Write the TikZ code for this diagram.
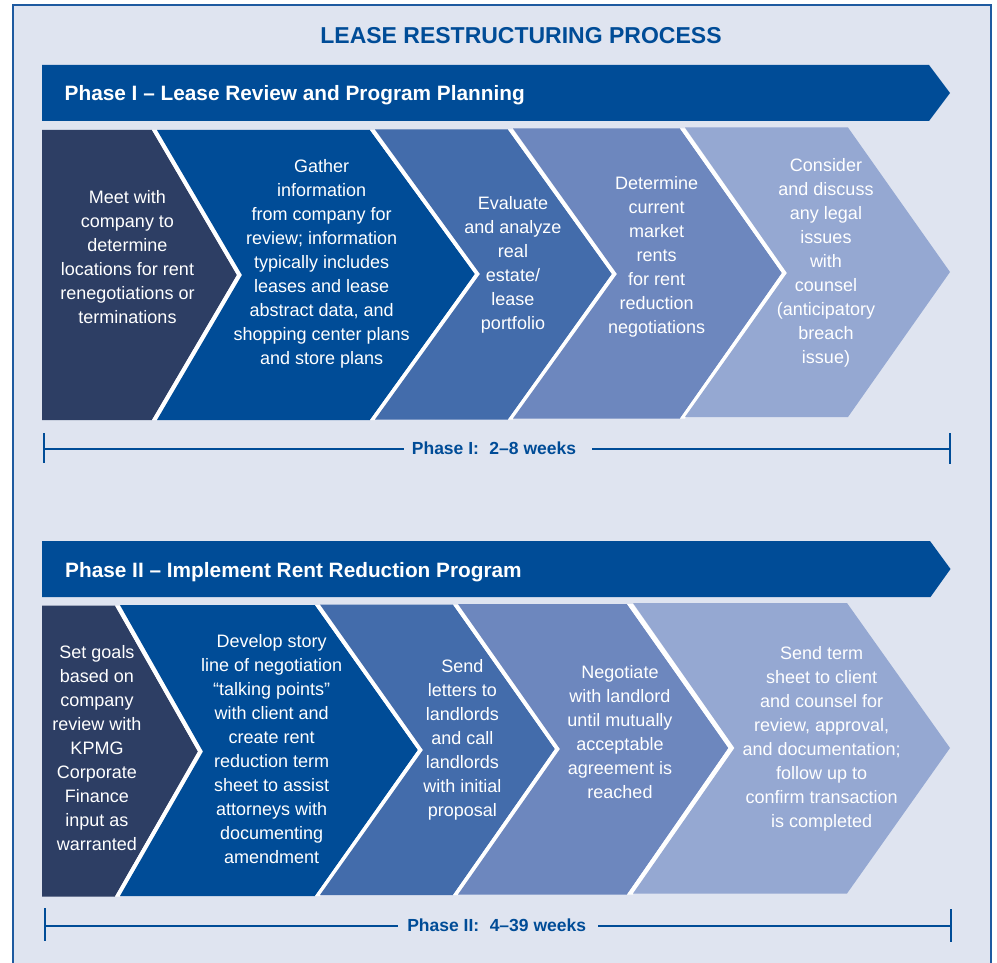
\documentclass[tikz,border=0pt]{standalone}
\usepackage{fontspec}
\setmainfont{Liberation Sans}
\definecolor{bgc}{HTML}{DFE4F0}
\definecolor{framec}{HTML}{1E5AA0}
\definecolor{kblue}{HTML}{004C97}
\definecolor{navy}{HTML}{2D3E64}
\definecolor{cthree}{HTML}{436CAB}
\definecolor{cfour}{HTML}{6D87BE}
\definecolor{cfive}{HTML}{95A8D2}
\begin{document}
\begin{tikzpicture}[x=1pt,y=-1pt,
  chevtext/.style={text=white, align=center, inner sep=0pt, font=\fontsize{18}{24}\selectfont},
  bannertext/.style={text=white, anchor=base west, inner sep=0pt, font=\fontsize{20.8}{24}\selectfont\bfseries},
  durlabel/.style={text=kblue, anchor=base, inner sep=0pt, font=\fontsize{17.5}{20}\selectfont\bfseries},
  bracketline/.style={draw=kblue, line width=2pt},
  gapfill/.style={fill=white}]
\useasboundingbox (0,0) rectangle (997,963);
\clip (0,0) rectangle (997,963);
\fill[white] (0,0) rectangle (997,963);
\draw[framec, line width=2.6pt, fill=bgc] (13,5) rectangle (991,990);

% title
\node[text=kblue, anchor=base, inner sep=0pt, font=\fontsize{23}{28}\selectfont\bfseries] (title) at (521,43.3) {LEASE RESTRUCTURING PROCESS};

% ---------------- Phase I ----------------
\fill[kblue] (42,65) -- (929,65) -- (950,93) -- (929,121) -- (42,121) -- cycle;
\node[bannertext] (ban1) at (64.5,101) {Phase I -- Lease Review and Program Planning};

\fill[navy] (42,130) -- (152,130) -- (237,275) -- (152,420) -- (42,420) -- cycle;
\fill[gapfill] (152,130) -- (157,130) -- (242,275) -- (157,420) -- (152,420) -- (237,275) -- cycle;
\fill[kblue] (157,130) -- (370,130) -- (475,274) -- (370,420) -- (157,420) -- (242,275) -- cycle;
\fill[gapfill] (370,130) -- (375,130) -- (480,274) -- (375,420) -- (370,420) -- (475,274) -- cycle;
\fill[cthree] (375,129.5) -- (508,129.5) -- (612,274) -- (508,419.5) -- (375,419.5) -- (480,274) -- cycle;
\fill[gapfill] (508,129.5) -- (513,129.5) -- (617,274) -- (513,419.5) -- (508,419.5) -- (612,274) -- cycle;
\fill[cfour] (513,128.5) -- (680,128.5) -- (782,273) -- (680,418.5) -- (513,418.5) -- (617,274) -- cycle;
\fill[gapfill] (680,128.5) -- (685,128.5) -- (787,273) -- (685,418.5) -- (680,418.5) -- (782,273) -- cycle;
\fill[cfive] (685,127.5) -- (848,127.5) -- (950,272) -- (848,417) -- (685,417) -- (787,273) -- cycle;

\node[chevtext] (p1a) at (127.5,257) {Meet with\\company to\\determine\\locations for rent\\renegotiations or\\terminations};
\node[chevtext] (p1b) at (321.7,264) {Gather\\information\\from company for\\review; information\\typically includes\\leases and lease\\abstract data, and\\shopping center plans\\and store plans};
\node[chevtext] (p1c) at (513,265) {Evaluate\\and analyze\\real\\estate/\\lease\\portfolio};
\node[chevtext] (p1d) at (656.7,257) {Determine\\current\\market\\rents\\for rent\\reduction\\negotiations};
\node[chevtext] (p1e) at (826,262.5) {Consider\\and discuss\\any legal\\issues\\with\\counsel\\(anticipatory\\breach\\issue)};

\coordinate (l1a) at (43.5,448.5);
\coordinate (l1b) at (950,448.5);
\node[durlabel] (dur1) at (494,454) {Phase I:\hspace{0.6em}2--8 weeks};
\draw[bracketline] (43.5,433) -- (43.5,463);
\draw[bracketline] (950,433) -- (950,464);
\draw[bracketline] (l1a) -- ([xshift=-8pt]l1a -| dur1.west);
\draw[bracketline] ([xshift=16pt]l1b -| dur1.east) -- (l1b);

% ---------------- Phase II ----------------
\fill[kblue] (42,541) -- (930,541) -- (950.5,569) -- (930.5,597) -- (42,597) -- cycle;
\node[bannertext] (ban2) at (65,577.3) {Phase II -- Implement Rent Reduction Program};

\fill[navy] (42,605.5) -- (115,605.5) -- (198,751.5) -- (115,896.5) -- (42,896.5) -- cycle;
\fill[gapfill] (115,605.5) -- (120,605.5) -- (203,751.5) -- (120,896.5) -- (115,896.5) -- (198,751.5) -- cycle;
\fill[kblue] (120,605) -- (315,605) -- (418,750) -- (315,896) -- (120,896) -- (203,751.5) -- cycle;
\fill[gapfill] (315,605) -- (320,605) -- (423,750) -- (320,896) -- (315,896) -- (418,750) -- cycle;
\fill[cthree] (320,604.5) -- (453,604.5) -- (555,749) -- (453,895) -- (320,895) -- (423,750) -- cycle;
\fill[gapfill] (453,604.5) -- (458,604.5) -- (560,749) -- (458,895) -- (453,895) -- (555,749) -- cycle;
\fill[cfour] (458,604) -- (627,604) -- (728.5,748) -- (627,894.5) -- (458,894.5) -- (560,749) -- cycle;
\fill[gapfill] (627,604) -- (633,604) -- (734.5,748) -- (633,894.5) -- (627,894.5) -- (728.5,748) -- cycle;
\fill[cfive] (633,603) -- (847,603) -- (950,748) -- (847,893.5) -- (633,893.5) -- (734.5,748) -- cycle;

\node[chevtext] (p2a) at (97,748) {Set goals\\based on\\company\\review with\\KPMG\\Corporate\\Finance\\input as\\warranted};
\node[chevtext] (p2b) at (271.7,749) {Develop story\\line of negotiation\\“talking points”\\with client and\\create rent\\reduction term\\sheet to assist\\attorneys with\\documenting\\amendment};
\node[chevtext] (p2c) at (462.3,739.7) {Send\\letters to\\landlords\\and call\\landlords\\with initial\\proposal};
\node[chevtext] (p2d) at (620,731.7) {Negotiate\\with landlord\\until mutually\\acceptable\\agreement is\\reached};
\node[chevtext] (p2e) at (821.7,738.8) {Send term\\sheet to client\\and counsel for\\review, approval,\\and documentation;\\follow up to\\confirm transaction\\is completed};

\coordinate (l2a) at (44.7,925.5);
\coordinate (l2b) at (951,925.5);
\node[durlabel] (dur2) at (496.7,931) {Phase II:\hspace{0.6em}4--39 weeks};
\draw[bracketline] (44.7,908) -- (44.7,941);
\draw[bracketline] (951,909) -- (951,942);
\draw[bracketline] (l2a) -- ([xshift=-9pt]l2a -| dur2.west);
\draw[bracketline] ([xshift=12pt]l2b -| dur2.east) -- (l2b);
\end{tikzpicture}
\end{document}
